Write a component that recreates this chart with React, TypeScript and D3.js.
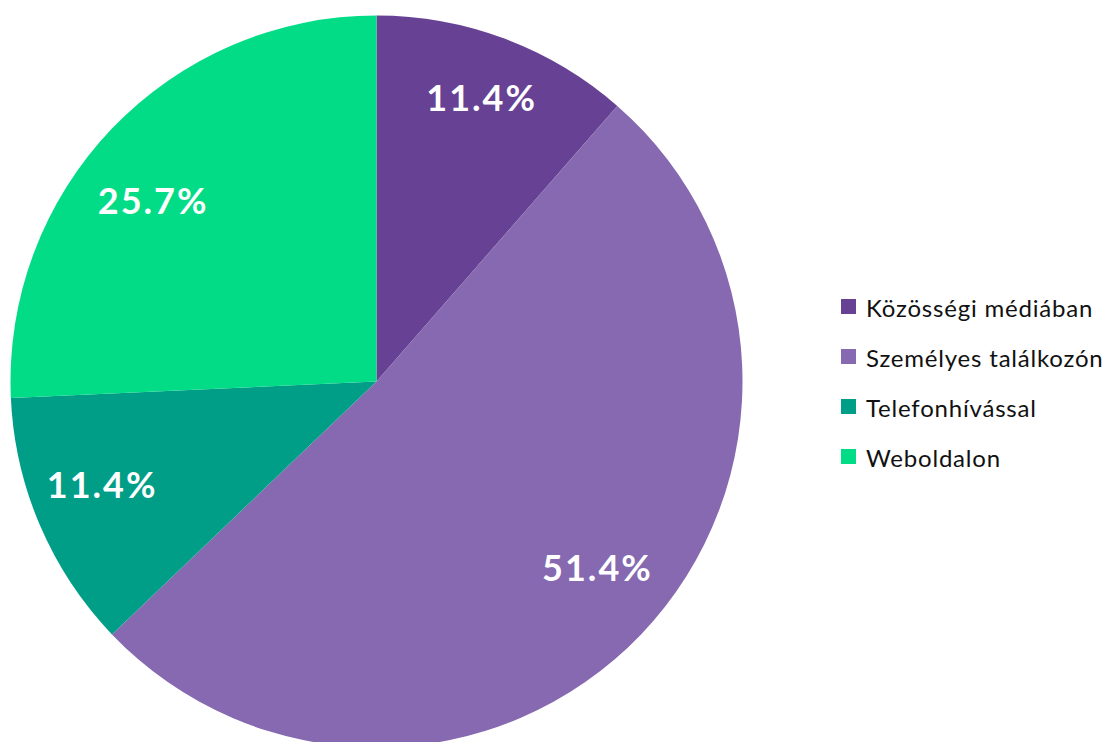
import React from "react";
import * as d3 from "d3";

const categories = ["Közösségi médiában", "Személyes találkozón", "Telefonhívással", "Weboldalon"];
const values = [4, 18, 4, 9];
const labels = ["11.4%", "51.4%", "11.4%", "25.7%"];
const colors = ["#674193", "#8669B0", "#009E87", "#02DC87"];

// label placement tweaks (radius fraction, angular nudge in degrees) imitating the reference's "best fit"
const labelRadiusFrac = [0.829, 0.787, 0.803, 0.789];
const labelAngleNudge = [-0.5, -3.5, 2.7, -4.7];

export default function App() {
  const W = 1107, H = 742;
  const cx = 376.5, cy = 381.5, R = 366;
  const pie = d3.pie<number>().sort(null).value((d) => d)(values);
  const arc = d3.arc<d3.PieArcDatum<number>>().innerRadius(0).outerRadius(R);
  const legendY = d3.scaleLinear().domain([0, 1]).range([307, 357]);
  return (
    <svg width={W} height={H} style={{ position: "absolute", left: 0, top: 0 }}>
      <g transform={`translate(${cx},${cy})`}>
        {pie.map((p, i) => (
          <path key={i} d={arc(p) || ""} fill={colors[i]} />
        ))}
        {pie.map((p, i) => {
          const nudge = (labelAngleNudge[i] * Math.PI) / 180;
          const r = R * labelRadiusFrac[i];
          const la = d3.arc<any>().innerRadius(r).outerRadius(r);
          const [x, y] = la.centroid({ startAngle: p.startAngle + nudge, endAngle: p.endAngle + nudge });
          return (
            <text key={i} x={x + 1} y={y} textAnchor="middle" dominantBaseline="central" fill="#fff"
              fontFamily="Lato, 'Open Sans', sans-serif" fontWeight="bold" fontSize={36} letterSpacing={2}>
              {labels[i]}
            </text>
          );
        })}
      </g>
      {categories.map((c, i) => (
        <g key={c} transform={`translate(841,${legendY(i)})`}>
          <rect x={0} y={-8} width={15} height={15} fill={colors[i]} />
          <text x={25} y={0} dominantBaseline="central" fontFamily="Lato, sans-serif" fontSize={24} fill="#111" letterSpacing={0.8}>
            {c}
          </text>
        </g>
      ))}
    </svg>
  );
}
